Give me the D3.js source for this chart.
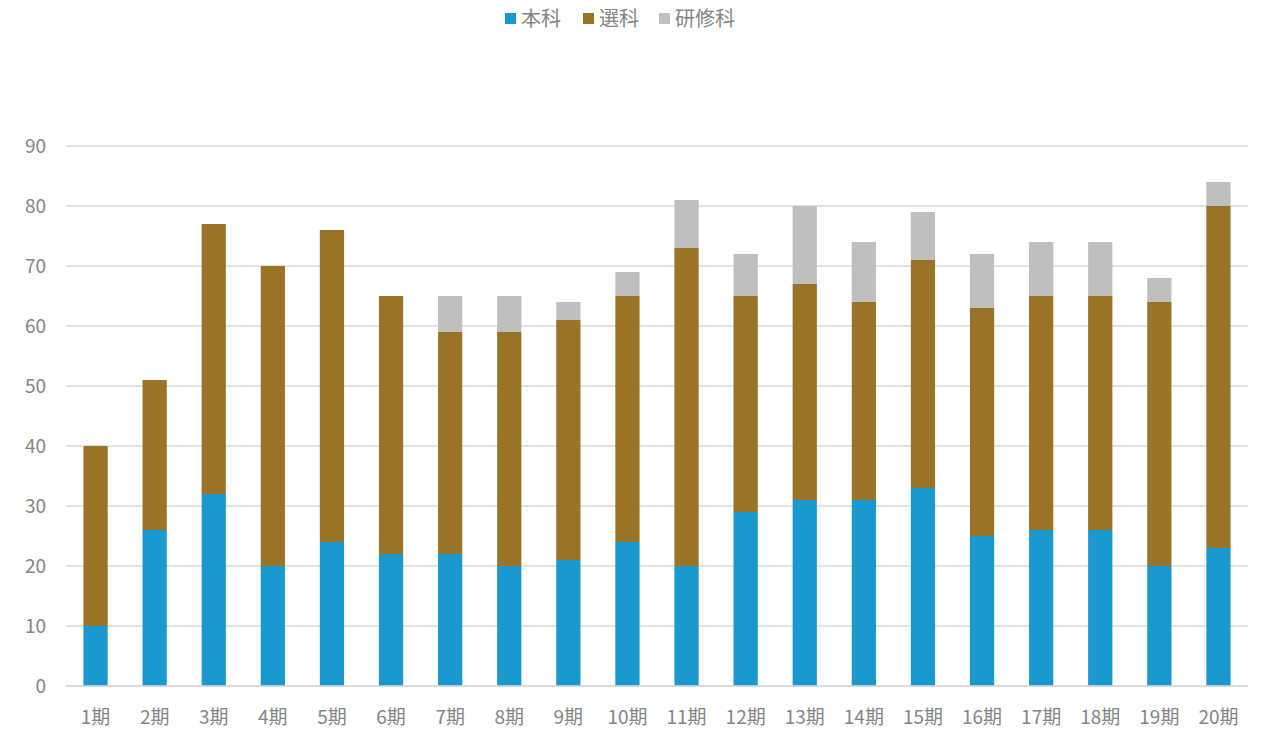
<!DOCTYPE html>
<html><head><meta charset="utf-8">
<script src="https://cdn.jsdelivr.net/npm/d3@7"></script>
<style>body{margin:0;background:#fff;}svg{display:block;}</style>
</head><body><svg id="c" width="1280" height="737"></svg>
<script>
const categories = ["1期","2期","3期","4期","5期","6期","7期","8期","9期","10期","11期","12期","13期","14期","15期","16期","17期","18期","19期","20期"];
const honka  = [10,26,32,20,24,22,22,20,21,24,20,29,31,31,33,25,26,26,20,23];
const senka  = [30,25,45,50,52,43,37,39,40,41,53,36,36,33,38,38,39,39,44,57];
const kenshu = [0,0,0,0,0,0,6,6,3,4,8,7,13,10,8,9,9,9,4,4];
const seriesNames = ["本科","選科","研修科"];
const colors = ["#1B98CE","#9A7426","#BFBFBF"];
const yTicks = [0,10,20,30,40,50,60,70,80,90];

const svg = d3.select("#c");
const font = "'Noto Sans CJK JP', 'Noto Sans', sans-serif";
const textColor = "#858585";
const x = d3.scaleBand().domain(categories).range([66,1248]).paddingInner(0.59).paddingOuter(0.295);
const y = d3.scaleLinear().domain([0,90]).range([686,146]);

svg.append("g").selectAll("line").data(yTicks).join("line")
  .attr("x1",66).attr("x2",1248).attr("y1",d=>y(d)).attr("y2",d=>y(d))
  .attr("stroke","#D9D9D9").attr("stroke-width",1.5);

svg.append("g").selectAll("text").data(yTicks).join("text")
  .attr("x",46).attr("y",d=>y(d)).attr("dy","0.35em").attr("text-anchor","end")
  .attr("font-family",font).attr("font-size",19).attr("fill",textColor).text(d=>d);

const data = categories.map((c,i)=>({cat:c, "本科":honka[i], "選科":senka[i], "研修科":kenshu[i]}));
const stacked = d3.stack().keys(seriesNames)(data);
svg.append("g").selectAll("g").data(stacked).join("g").attr("fill",(d,i)=>colors[i])
  .selectAll("rect").data(d=>d).join("rect")
  .attr("x",d=>x(d.data.cat)).attr("width",x.bandwidth())
  .attr("y",d=>y(d[1])).attr("height",d=>y(d[0])-y(d[1]));

svg.append("line").attr("x1",66).attr("x2",1248).attr("y1",y(0)).attr("y2",y(0))
  .attr("stroke","#D9D9D9").attr("stroke-width",1.5);

svg.append("g").selectAll("text").data(categories).join("text")
  .attr("x",d=>x(d)+x.bandwidth()/2).attr("y",717).attr("dy","0.35em").attr("text-anchor","middle")
  .attr("font-family",font).attr("font-size",19).attr("fill",textColor).text(d=>d);

const legendX = [505,583,659];
const lg = svg.append("g");
seriesNames.forEach((n,i)=>{
  lg.append("rect").attr("x",legendX[i]).attr("y",13).attr("width",11).attr("height",11).attr("fill",colors[i]);
  lg.append("text").attr("x",legendX[i]+16).attr("y",19).attr("dy","0.35em")
    .attr("font-family",font).attr("font-size",20).attr("fill",textColor).text(n);
});
</script></body></html>
